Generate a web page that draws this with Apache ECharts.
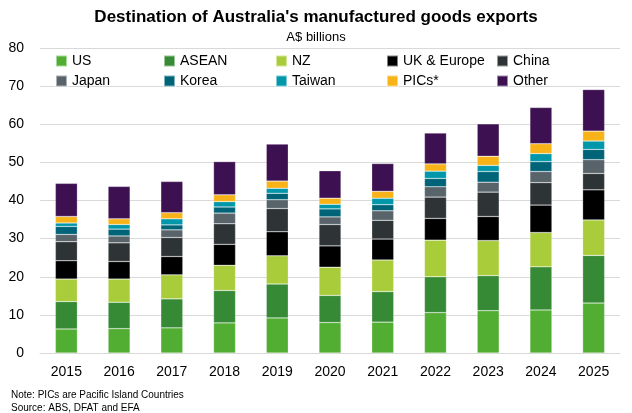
<!DOCTYPE html>
<html>
<head>
<meta charset="utf-8">
<script src="https://cdn.jsdelivr.net/npm/echarts@6/dist/echarts.min.js"></script>
<style>html,body{margin:0;padding:0;background:#fff}#chart{width:632px;height:413px}</style>
</head>
<body>
<div id="chart"></div>
<script>
// years and export values by destination (A$ billions)
var years = ['2015','2016','2017','2018','2019','2020','2021','2022','2023','2024','2025'];
var us     = [6.3,6.4,6.6,7.9,9.2,8.0,8.1,10.6,11.1,11.3,13.1];
var asean  = [7.2,6.9,7.6,8.5,8.9,7.1,8.0,9.4,9.2,11.3,12.5];
var nz     = [5.9,6.1,6.3,6.6,7.4,7.4,8.3,9.6,9.2,9.0,9.3];
var ukEu   = [4.8,4.6,4.8,5.5,6.3,5.6,5.5,5.7,6.3,7.2,7.9];
var china  = [5.0,4.9,5.0,5.4,6.1,5.6,4.9,5.6,6.4,5.9,4.3];
var japan  = [1.9,1.8,2.0,2.8,2.3,2.0,2.5,2.7,2.6,2.9,3.6];
var korea  = [2.1,1.8,1.3,1.6,1.7,2.1,1.6,2.2,2.8,2.6,2.7];
var taiwan = [0.9,1.2,1.6,1.4,1.3,1.2,1.7,1.9,1.6,2.1,2.2];
var pics   = [1.7,1.5,1.6,1.8,1.9,1.6,1.8,1.9,2.4,2.6,2.6];
var other  = [8.7,8.5,8.2,8.7,9.7,7.2,7.3,8.1,8.5,9.5,10.9];

var names  = ['US','ASEAN','NZ','UK & Europe','China','Japan','Korea','Taiwan','PICs*','Other'];
var colors = ['#52ae32','#368a35','#a8cc3a','#000000','#2e3436','#58636a','#006478','#0097aa','#f8b319','#3d1052'];
var values = [us,asean,nz,ukEu,china,japan,korea,taiwan,pics,other];
var legendLeft = [50,158,270,381,491];

var chart = echarts.init(document.getElementById('chart'));
var series = [], legends = [];
for (var i = 0; i < names.length; i++) {
  series.push({
    name: names[i], type: 'bar', stack: 'all', barWidth: 22,
    itemStyle: {color: colors[i], borderColor: 'rgba(255,255,255,0.5)', borderWidth: 0.5},
    data: values[i]
  });
  legends.push({
    data: [names[i]], left: legendLeft[i % 5], top: i < 5 ? 49 : 69,
    itemWidth: 11, itemHeight: 11, icon: 'rect',
    textStyle: {fontFamily: 'Liberation Sans', fontSize: 14, color: '#000'}
  });
}

chart.setOption({
  animation: false,
  color: colors,
  title: [
    {text: "Destination of Australia's manufactured goods exports", left: 'center', top: 4,
     textStyle: {fontFamily: 'Liberation Sans', fontSize: 17, fontWeight: 'bold', color: '#000'}},
    {text: 'A$ billions', left: 'center', top: 26,
     textStyle: {fontFamily: 'Liberation Sans', fontSize: 13, fontWeight: 'normal', color: '#000'}},
    {text: 'Note: PICs are Pacific Island Countries\nSource: ABS, DFAT and EFA', left: 6, top: 384,
     textStyle: {fontFamily: 'Liberation Sans', fontSize: 10, fontWeight: 'normal', color: '#000', lineHeight: 13}}
  ],
  legend: legends,
  grid: {left: 40, right: 12, top: 48, bottom: 60},
  xAxis: {
    type: 'category', data: years,
    axisTick: {show: false},
    axisLine: {lineStyle: {color: '#d9d9d9'}},
    axisLabel: {fontFamily: 'Liberation Sans', fontSize: 14, color: '#000', margin: 12}
  },
  yAxis: {
    type: 'value', min: 0, max: 80, interval: 10,
    axisLine: {show: false}, axisTick: {show: false},
    splitLine: {lineStyle: {color: '#d9d9d9'}},
    axisLabel: {fontFamily: 'Liberation Sans', fontSize: 14, color: '#000', margin: 16}
  },
  series: series
});
</script>
</body>
</html>
